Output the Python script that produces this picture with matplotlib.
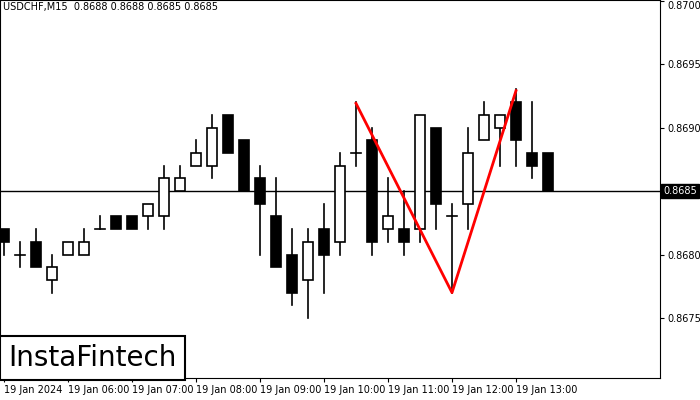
import matplotlib
matplotlib.use('Agg')
import matplotlib.pyplot as plt
from matplotlib.patches import Rectangle

# ── Data (USDCHF M15) ─────────────────────────────────────────
opens  = [.8682, .8680, .8681, .8678, .8680, .8680, .8682, .8683, .8683, .8683,
          .8683, .8685, .8687, .8687, .8691, .8689, .8686, .8683, .8680, .8678,
          .8682, .8681, .8688, .8689, .8682, .8682, .8682, .8690, .8683, .8684,
          .8689, .8690, .8692, .8688, .8688]
highs  = [.8682, .8681, .8682, .8680, .8681, .8682, .8683, .8683, .8683, .8684,
          .8687, .8687, .8689, .8691, .8691, .8689, .8687, .8686, .8682, .8682,
          .8684, .8688, .8692, .8690, .8686, .8685, .8691, .8690, .8684, .8690,
          .8692, .8691, .8693, .8692, .8688]
lows   = [.8680, .8679, .8679, .8677, .8680, .8680, .8682, .8682, .8682, .8682,
          .8682, .8685, .8687, .8686, .8688, .8685, .8680, .8679, .8676, .8675,
          .8677, .8680, .8687, .8680, .8681, .8680, .8681, .8682, .8677, .8682,
          .8689, .8687, .8687, .8686, .8685]
closes = [.8681, .8680, .8679, .8679, .8681, .8681, .8682, .8682, .8682, .8684,
          .8686, .8686, .8688, .8690, .8688, .8685, .8684, .8679, .8677, .8681,
          .8680, .8687, .8688, .8681, .8683, .8681, .8691, .8684, .8683, .8688,
          .8691, .8691, .8689, .8687, .8685]
pattern_x = [22, 28, 32]
pattern_y = [.86919, .8677, .86929]
tick_pos = [0, 4, 8, 12, 16, 20, 24, 28, 32]
tick_labels = ['19 Jan 2024', '19 Jan 06:00', '19 Jan 07:00', '19 Jan 08:00', '19 Jan 09:00',
               '19 Jan 10:00', '19 Jan 11:00', '19 Jan 12:00', '19 Jan 13:00']
price_ticks = [0.8675, 0.8680, 0.8685, 0.8690, 0.8695, 0.8700]
last_price = 0.8685

YMIN, YMAX = 0.867028, 0.870004

fig = plt.figure(figsize=(7, 4), dpi=100)
ax = fig.add_axes([0.0, 0.055, 660/700, 0.945])
ax.set_xlim(-0.25, 41)
ax.set_ylim(YMIN, YMAX)

w = 0.62
for i, (o, h, l, c) in enumerate(zip(opens, highs, lows, closes)):
    lo_b, hi_b = min(o, c), max(o, c)
    ax.plot([i, i], [l, lo_b], color='black', lw=1.2, zorder=2)
    ax.plot([i, i], [hi_b, h], color='black', lw=1.2, zorder=2)
    if o == c:
        ax.plot([i - w/2, i + w/2], [o, o], color='black', lw=1.2, zorder=2)
    else:
        face = 'white' if c > o else 'black'
        ax.add_patch(Rectangle((i - w/2, lo_b), w, hi_b - lo_b, facecolor=face,
                               edgecolor='black', lw=1.2, zorder=3))

ax.axhline(last_price, color='black', lw=1, zorder=1)
ax.plot(pattern_x, pattern_y, color='red', lw=2, zorder=4)

ax.yaxis.tick_right()
ax.set_yticks(price_ticks)
ax.set_yticklabels(['' if p == last_price else f'{p:.4f}' for p in price_ticks], fontsize=7)
ax.get_yticklabels()[-1].set_va('top')
ax.set_xticks(tick_pos)
ax.set_xticklabels(tick_labels, fontsize=7, ha='left')
ax.tick_params(axis='x', length=3, pad=2)
ax.tick_params(axis='y', length=3, pad=2)
for s in ax.spines.values():
    s.set_linewidth(0.8)

ax.text(1.005, (last_price - YMIN) / (YMAX - YMIN), f'{last_price:.4f}',
        transform=ax.transAxes, fontsize=7, color='white', va='center', ha='left',
        bbox=dict(facecolor='black', edgecolor='black', pad=1.5))

ax.text(0.005, 0.995, 'USDCHF,M15  0.8688 0.8688 0.8685 0.8685', transform=ax.transAxes,
        fontsize=7, va='top', ha='left')

fig.text(8/700, 1 - 358/400, 'InstaFintech', fontsize=20, va='center', ha='left',
         bbox=dict(facecolor='white', edgecolor='black', lw=1.5, boxstyle='square,pad=0.3'))

fig.savefig('out.png', dpi=100)
